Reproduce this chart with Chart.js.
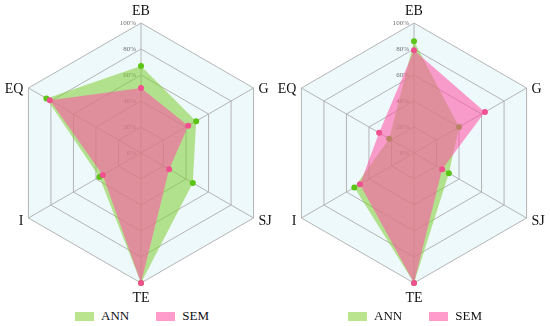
<!DOCTYPE html>
<html>
<head>
<meta charset="utf-8">
<script src="https://cdn.jsdelivr.net/npm/chart.js@4.4.0/dist/chart.umd.min.js"></script>
<style>
    body { margin: 0; background: #fff; overflow: hidden; }
    .box { position: absolute; top: 0; width: 330px; height: 306px; }
    .legenda { position: absolute; top: 308px; width: 200px; height: 16px; display: flex; justify-content: center; align-items: center;
        font-family: 'Liberation Serif'; font-size: 13px; color: #111; }
    .legenda span.cx { display: inline-block; width: 19px; height: 9px; margin-right: 7px; }
    .legenda span.tx { margin-right: 27px; }
    .legenda span.tx:last-child { margin-right: 0; }
</style>
</head>
<body>
<div class="box" style="left:-24px"><canvas id="graficoA"></canvas></div>
<div class="box" style="left:249px"><canvas id="graficoB"></canvas></div>
<div class="legenda" id="legendaA" style="left:42px"></div>
<div class="legenda" id="legendaB" style="left:315px"></div>
<script>
const categorias = ['EB', 'G', 'SJ', 'TE', 'I', 'EQ']
const ticksValores = [0, 20, 40, 60, 80, 100]
const ticksTexto = ['0%', '20%', '40%', '60%', '80%', '100%']

const annEsquerda = [67, 49, 46, 100, 37, 84]
const semEsquerda = [50, 42, 25, 100, 34, 81]
const annDireita = [86, 40, 31, 100, 53, 22]
const semDireita = [79, 63, 25, 100, 48, 31]

const corAnn = 'rgba(130, 205, 50, 0.55)'
const corSem = 'rgba(255, 85, 165, 0.58)'

//rotulos 0%..100% a esquerda do eixo vertical
const rotulosTicks = {
    id: 'rotulosTicks',
    beforeDatasetsDraw(chart) {
        const r = chart.scales.r
        const ctx = chart.ctx
        ctx.save()
        ctx.font = '7px "Liberation Serif"'
        ctx.fillStyle = '#707070'
        ctx.textAlign = 'right'
        ctx.textBaseline = 'middle'
        ticksValores.forEach((v, i) => {
            const d = r.getDistanceFromCenterForValue(v)
            ctx.fillText(ticksTexto[i], r.xCenter - 5, r.yCenter - d)
        })
        ctx.restore()
    }
}

//nomes dos eixos ao lado de cada vertice
const rotulosEixos = {
    id: 'rotulosEixos',
    afterDraw(chart) {
        const r = chart.scales.r
        const ctx = chart.ctx
        ctx.save()
        ctx.font = '14px "Liberation Serif"'
        ctx.fillStyle = '#111'
        ctx.textBaseline = 'alphabetic'
        categorias.forEach((nome, i) => {
            const p = r.getPointPosition(i, r.drawingArea)
            const dx = p.x - r.xCenter
            const dy = p.y - r.yCenter
            if (Math.abs(dx) < 1) {
                ctx.textAlign = 'center'
                if (dy < 0) ctx.fillText(nome, p.x, p.y - 8)
                else ctx.fillText(nome, p.x, p.y + 19)
            } else {
                ctx.textAlign = dx > 0 ? 'left' : 'right'
                const x = dx > 0 ? p.x + 5 : p.x - 5
                ctx.fillText(nome, x, dy < 0 ? p.y + 5 : p.y + 7)
            }
        })
        ctx.restore()
    }
}

//legenda em html, na ordem ANN, SEM
function legenda(id) {
    const el = document.getElementById(id)
    const itens = [['ANN', corAnn], ['SEM', corSem]]
    itens.forEach(([nome, cor]) => {
        const cx = document.createElement('span')
        cx.className = 'cx'
        cx.style.background = cor
        const tx = document.createElement('span')
        tx.className = 'tx'
        tx.textContent = nome
        el.appendChild(cx)
        el.appendChild(tx)
    })
}

function grafico(id, ann, sem) {
    const ctx = document.getElementById(id).getContext('2d')
    new Chart(ctx, {
        type: 'radar',
        data: {
            labels: categorias,
            datasets: [{
                label: 'SEM',
                data: sem,
                backgroundColor: corSem,
                borderWidth: 0,
                pointRadius: 3,
                pointBorderWidth: 0,
                pointBackgroundColor: '#f0508f',
                fill: true
            }, {
                label: 'ANN',
                data: ann,
                backgroundColor: corAnn,
                borderWidth: 0,
                pointRadius: 3,
                pointBorderWidth: 0,
                pointBackgroundColor: '#5cc414',
                fill: true
            }]
        },
        options: {
            responsive: true,
            maintainAspectRatio: false,
            animation: false,
            layout: { padding: { top: 23, bottom: 23 } },
            plugins: {
                legend: { display: false },
                tooltip: { enabled: false }
            },
            scales: {
                r: {
                    min: 0,
                    max: 100,
                    backgroundColor: '#eef9fc',
                    ticks: { stepSize: 20, display: false },
                    grid: { color: '#b4b4b4', lineWidth: 1 },
                    angleLines: { color: '#b4b4b4', lineWidth: 1 },
                    pointLabels: { display: false }
                }
            }
        },
        plugins: [rotulosTicks, rotulosEixos]
    })
}

grafico('graficoA', annEsquerda, semEsquerda)
grafico('graficoB', annDireita, semDireita)
legenda('legendaA')
legenda('legendaB')
</script>
</body>
</html>
